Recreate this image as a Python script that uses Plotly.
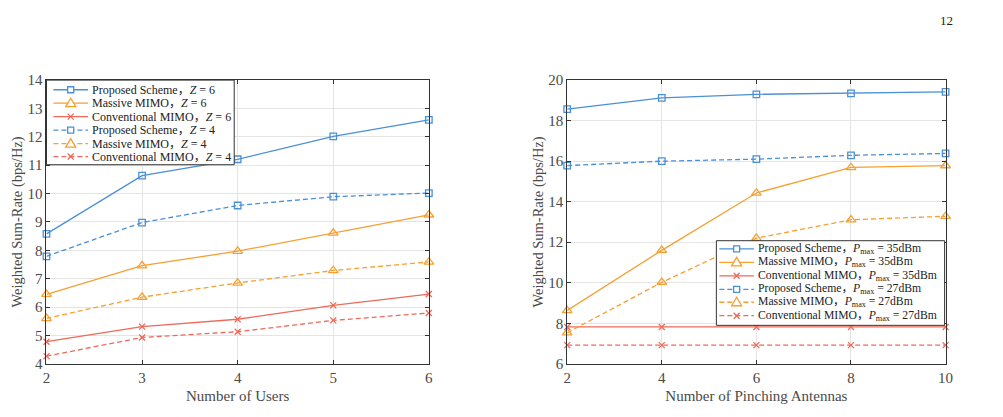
import plotly.graph_objects as go

# Left chart: Number of users
users = [2, 3, 4, 5, 6]
prop_z6 = [8.58, 10.63, 11.21, 12.02, 12.6]
mass_z6 = [6.45, 7.46, 7.97, 8.61, 9.25]
conv_z6 = [4.78, 5.31, 5.57, 6.06, 6.46]
prop_z4 = [7.79, 8.98, 9.58, 9.89, 10.02]
mass_z4 = [5.6, 6.35, 6.85, 7.29, 7.59]
conv_z4 = [4.27, 4.93, 5.13, 5.53, 5.79]

# Right chart: Number of pinching antennas
antennas = [2, 4, 6, 8, 10]
prop_35 = [18.57, 19.12, 19.3, 19.35, 19.42]
mass_35 = [8.63, 11.6, 14.43, 15.69, 15.78]
conv_35 = [7.82, 7.82, 7.82, 7.82, 7.82]
prop_27 = [15.78, 16.0, 16.1, 16.29, 16.38]
mass_27 = [7.53, 10.02, 12.2, 13.11, 13.28]
conv_27 = [6.92, 6.92, 6.92, 6.92, 6.92]

left_names = ["Proposed Scheme，<i>Z</i> = 6", "Massive MIMO，<i>Z</i> = 6", "Conventional MIMO，<i>Z</i> = 6",
              "Proposed Scheme，<i>Z</i> = 4", "Massive MIMO，<i>Z</i> = 4", "Conventional MIMO，<i>Z</i> = 4"]
right_names = ["Proposed Scheme，<i>P</i><sub>max</sub> = 35dBm", "Massive MIMO，<i>P</i><sub>max</sub> = 35dBm",
               "Conventional MIMO，<i>P</i><sub>max</sub> = 35dBm", "Proposed Scheme，<i>P</i><sub>max</sub> = 27dBm",
               "Massive MIMO，<i>P</i><sub>max</sub> = 27dBm", "Conventional MIMO，<i>P</i><sub>max</sub> = 27dBm"]

BLUE = "#4a90d9"
ORANGE = "#f5a031"
RED = "#ee6a5a"
colors = [BLUE, ORANGE, RED, BLUE, ORANGE, RED]
symbols = ["square-open", "triangle-up-open", "x-thin-open", "square-open", "triangle-up-open", "x-thin-open"]
sizes = [6.5, 8.5, 6, 6.5, 8.5, 6]
DASH = "5px,3px"
dashes = ["solid", "solid", "solid", DASH, DASH, DASH]
kinds = ["sq", "tri", "x", "sq", "tri", "x"]

FONT = "Liberation Serif, Times New Roman, Noto Sans CJK SC, serif"
TXT = "#4a4a4a"
AXC = "#333333"

W, H = 1003, 417


def px(X):
    return X / W


def py(Y):
    return 1 - Y / H


fig = go.Figure()

left_series = [prop_z6, mass_z6, conv_z6, prop_z4, mass_z4, conv_z4]
right_series = [prop_35, mass_35, conv_35, prop_27, mass_27, conv_27]

for i, ys in enumerate(left_series):
    fig.add_trace(go.Scatter(
        x=users, y=ys, name=left_names[i], mode="lines+markers", showlegend=False,
        cliponaxis=False,
        line=dict(color=colors[i], width=1.3, dash=dashes[i]),
        marker=dict(symbol=symbols[i], size=sizes[i], color=colors[i],
                    line=dict(color=colors[i], width=1.3)),
        xaxis="x", yaxis="y"))

for i, ys in enumerate(right_series):
    fig.add_trace(go.Scatter(
        x=antennas, y=ys, name=right_names[i], mode="lines+markers", showlegend=False,
        cliponaxis=False,
        line=dict(color=colors[i], width=1.3, dash=dashes[i]),
        marker=dict(symbol=symbols[i], size=sizes[i], color=colors[i],
                    line=dict(color=colors[i], width=1.3)),
        xaxis="x2", yaxis="y2"))

ax_common = dict(showline=True, linecolor=AXC, linewidth=1, mirror="ticks",
                 ticks="inside", ticklen=4, tickcolor=AXC,
                 showgrid=True, gridcolor="#e4e4e4", gridwidth=1, zeroline=False,
                 tickfont=dict(family=FONT, size=15, color=TXT))

y_top = py(75)
y_bot = py(370)
tfont = dict(family=FONT, size=15, color=TXT)
yfont = dict(family=FONT, size=14.5, color=TXT)

shapes = []
annotations = []
MARK_PATHS = {
    "sq": "M -3,-3 L 3,-3 L 3,3 L -3,3 Z",
    "tri": "M -5,-3.5 L 5,-3.5 L 0,5 Z",
    "x": "M -3,-3 L 3,3 M -3,3 L 3,-3",
}


def add_legend(box, rows, line_x0, line_x1, text_x, names, fsize):
    x0, y0, x1, y1 = box
    shapes.append(dict(type="rect", xref="paper", yref="paper", layer="above",
                       x0=px(x0), x1=px(x1), y0=py(y1), y1=py(y0),
                       fillcolor="white", line=dict(color=AXC, width=1)))
    for i, yc in enumerate(rows):
        shapes.append(dict(type="line", xref="paper", yref="paper", layer="above",
                           x0=px(line_x0), x1=px(line_x1), y0=py(yc), y1=py(yc),
                           line=dict(color=colors[i], width=1.3, dash=dashes[i])))
        shapes.append(dict(type="path", xref="paper", yref="paper", layer="above",
                           xsizemode="pixel", ysizemode="pixel",
                           xanchor=px((line_x0 + line_x1) / 2), yanchor=py(yc),
                           path=MARK_PATHS[kinds[i]], fillcolor="white",
                           line=dict(color=colors[i], width=1.3)))
        annotations.append(dict(text=names[i], xref="paper", yref="paper",
                                x=px(text_x), y=py(yc), xanchor="left", yanchor="middle",
                                showarrow=False, borderpad=0,
                                font=dict(family=FONT, size=fsize, color="#222222")))


add_legend((43, 75, 233, 163), [85, 99, 113, 127, 141, 154.5], 50, 85, 88, left_names, 12)
add_legend((721, 242, 952, 330), [250.5, 264.5, 278.5, 292.5, 306, 320], 724, 759, 762, right_names, 11.7)

annotations.append(dict(text="12", x=px(963), y=py(13), xref="paper", yref="paper",
                        xanchor="right", yanchor="middle", showarrow=False,
                        font=dict(family=FONT, size=13, color="#222222")))

fig.update_layout(
    width=W, height=H,
    margin=dict(l=0, r=0, t=0, b=0),
    paper_bgcolor="white", plot_bgcolor="white",
    font=dict(family=FONT, color=TXT),
    showlegend=False,
    xaxis=dict(domain=[px(43), px(430)], range=[2, 6], tickvals=users,
               title=dict(text="Number of Users", font=tfont, standoff=5), **ax_common),
    yaxis=dict(domain=[y_bot, y_top], range=[4, 14], dtick=1,
               title=dict(text="Weighted Sum-Rate (bps/Hz)", font=yfont, standoff=1), **ax_common),
    xaxis2=dict(domain=[px(570), px(953)], range=[2, 10], tickvals=antennas, anchor="y2",
                title=dict(text="Number of Pinching Antennas", font=tfont, standoff=5), **ax_common),
    yaxis2=dict(domain=[y_bot, y_top], range=[6, 20], dtick=2, anchor="x2",
                title=dict(text="Weighted Sum-Rate (bps/Hz)", font=yfont, standoff=1), **ax_common),
    shapes=shapes,
    annotations=annotations,
)

fig.write_html("out.html")
